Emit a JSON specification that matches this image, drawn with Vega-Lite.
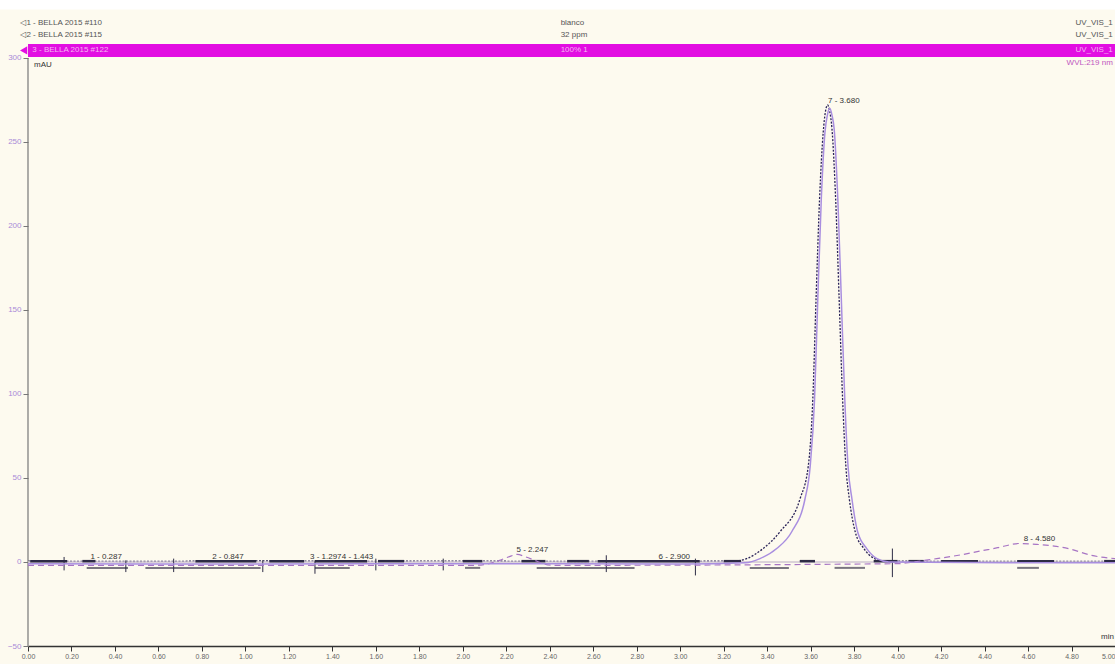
{
  "$schema": "https://vega.github.io/schema/vega-lite/v6.json",
  "width": 1087,
  "height": 646,
  "autosize": {"type": "none"},
  "padding": {"left": 28, "top": 0, "right": 0, "bottom": 18},
  "background": "#fdfaef",
  "config": {
    "view": {"stroke": null},
    "text": {"font": "Liberation Sans", "fontSize": 8},
    "axis": {"labelFont": "Liberation Sans", "titleFontSize": 0, "titleOpacity": 0}
  },
  "datasets": {
    "one": [{}],
    "dark": [
      {"t": 0, "v": 0.5}, {"t": 0.5, "v": 0.3}, {"t": 1.0, "v": 0.6}, {"t": 1.5, "v": 0.4}, {"t": 2.0, "v": 0.5},
      {"t": 2.5, "v": 0.3}, {"t": 3.0, "v": 0.4}, {"t": 3.25, "v": 0.5}, {"t": 3.306, "v": 2}, {"t": 3.381, "v": 8},
      {"t": 3.459, "v": 18}, {"t": 3.551, "v": 37.5}, {"t": 3.589, "v": 57}, {"t": 3.61, "v": 97},
      {"t": 3.625, "v": 157}, {"t": 3.641, "v": 216}, {"t": 3.658, "v": 256}, {"t": 3.668, "v": 268}, {"t": 3.678, "v": 272},
      {"t": 3.688, "v": 268}, {"t": 3.698, "v": 258}, {"t": 3.715, "v": 216}, {"t": 3.731, "v": 157}, {"t": 3.747, "v": 97},
      {"t": 3.762, "v": 57}, {"t": 3.778, "v": 37.5}, {"t": 3.805, "v": 18}, {"t": 3.845, "v": 8}, {"t": 3.895, "v": 2},
      {"t": 3.95, "v": 0.5}, {"t": 4.5, "v": 0.3}, {"t": 5.0, "v": 0.4}
    ],
    "purple": [
      {"t": 0, "v": -1}, {"t": 1.0, "v": -1.2}, {"t": 2.0, "v": -1}, {"t": 3.0, "v": -1.2}, {"t": 3.3, "v": -0.5},
      {"t": 3.367, "v": 2}, {"t": 3.444, "v": 8}, {"t": 3.513, "v": 18}, {"t": 3.574, "v": 37.5}, {"t": 3.598, "v": 57},
      {"t": 3.618, "v": 97}, {"t": 3.633, "v": 157}, {"t": 3.649, "v": 216}, {"t": 3.666, "v": 256}, {"t": 3.677, "v": 266},
      {"t": 3.688, "v": 270}, {"t": 3.698, "v": 266}, {"t": 3.708, "v": 258}, {"t": 3.725, "v": 216}, {"t": 3.741, "v": 157},
      {"t": 3.757, "v": 97}, {"t": 3.772, "v": 57}, {"t": 3.79, "v": 37.5}, {"t": 3.816, "v": 18}, {"t": 3.858, "v": 8},
      {"t": 3.905, "v": 2}, {"t": 3.96, "v": 0}, {"t": 4.5, "v": -0.5}, {"t": 5.0, "v": -0.5}
    ],
    "humps": [
      {"t": 0, "v": -2}, {"t": 2.05, "v": -2}, {"t": 2.12, "v": -1}, {"t": 2.17, "v": 1}, {"t": 2.21, "v": 3},
      {"t": 2.25, "v": 4.5}, {"t": 2.29, "v": 3}, {"t": 2.33, "v": 1}, {"t": 2.37, "v": -1}, {"t": 2.42, "v": -2},
      {"t": 4.0, "v": -1}, {"t": 4.07, "v": 0}, {"t": 4.18, "v": 2}, {"t": 4.28, "v": 4}, {"t": 4.38, "v": 6.5},
      {"t": 4.46, "v": 8.5}, {"t": 4.56, "v": 11}, {"t": 4.64, "v": 10.5}, {"t": 4.72, "v": 9.5}, {"t": 4.8, "v": 7.5},
      {"t": 4.89, "v": 4}, {"t": 5.0, "v": 2}
    ],
    "darkSegs": [
      {"t0": 0.01, "t1": 0.18}, {"t0": 0.25, "t1": 0.31}, {"t0": 0.77, "t1": 1.05}, {"t0": 1.11, "t1": 1.27},
      {"t0": 1.32, "t1": 1.56}, {"t0": 1.61, "t1": 1.73}, {"t0": 2.0, "t1": 2.09}, {"t0": 2.27, "t1": 2.38},
      {"t0": 2.48, "t1": 2.58}, {"t0": 2.62, "t1": 3.09}, {"t0": 3.2, "t1": 3.28}, {"t0": 3.55, "t1": 3.62},
      {"t0": 3.89, "t1": 4.0}, {"t0": 4.05, "t1": 4.12}, {"t0": 4.2, "t1": 4.37}, {"t0": 4.55, "t1": 4.72},
      {"t0": 4.95, "t1": 5.0}
    ],
    "graySegs": [
      {"t0": 0.27, "t1": 0.46}, {"t0": 0.54, "t1": 1.07}, {"t0": 1.32, "t1": 1.48}, {"t0": 2.01, "t1": 2.08},
      {"t0": 2.34, "t1": 2.79}, {"t0": 3.32, "t1": 3.5}, {"t0": 3.71, "t1": 3.85}, {"t0": 4.55, "t1": 4.65}
    ],
    "delims": [
      {"t": 0.166, "lo": -5, "hi": 3}, {"t": 0.45, "lo": -6, "hi": 1}, {"t": 0.67, "lo": -6, "hi": 2},
      {"t": 1.08, "lo": -6, "hi": 1}, {"t": 1.32, "lo": -7, "hi": 1}, {"t": 1.6, "lo": -5, "hi": 2},
      {"t": 1.91, "lo": -5, "hi": 2}, {"t": 2.66, "lo": -6, "hi": 4}, {"t": 3.07, "lo": -8, "hi": 2},
      {"t": 3.976, "lo": -9, "hi": 8}
    ],
    "peaks": [
      {"label": "1 - 0.287", "t": 0.287, "h": 0.5}, {"label": "2 - 0.847", "t": 0.847, "h": 0.5},
      {"label": "3 - 1.297", "t": 1.297, "h": 0.5}, {"label": "4 - 1.443", "t": 1.443, "h": 0.5},
      {"label": "5 - 2.247", "t": 2.247, "h": 5}, {"label": "6 - 2.900", "t": 2.9, "h": 0.5},
      {"label": "7 - 3.680", "t": 3.68, "h": 272}, {"label": "8 - 4.580", "t": 4.58, "h": 11.5}
    ]
  },
  "layer": [
    {
      "data": {"name": "dark"},
      "mark": {"type": "line", "color": "#2a2358", "strokeWidth": 1.3, "strokeDash": [2, 1.5], "interpolate": "monotone"},
      "encoding": {
        "x": {
          "field": "t", "type": "quantitative", "title": null,
          "scale": {"domain": [0, 5], "nice": false, "zero": false},
          "axis": {
            "orient": "bottom", "grid": false, "title": null,
            "values": [0,0.05,0.1,0.15,0.2,0.25,0.3,0.35,0.4,0.45,0.5,0.55,0.6,0.65,0.7,0.75,0.8,0.85,0.9,0.95,1,1.05,1.1,1.15,1.2,1.25,1.3,1.35,1.4,1.45,1.5,1.55,1.6,1.65,1.7,1.75,1.8,1.85,1.9,1.95,2,2.05,2.1,2.15,2.2,2.25,2.3,2.35,2.4,2.45,2.5,2.55,2.6,2.65,2.7,2.75,2.8,2.85,2.9,2.95,3,3.05,3.1,3.15,3.2,3.25,3.3,3.35,3.4,3.45,3.5,3.55,3.6,3.65,3.7,3.75,3.8,3.85,3.9,3.95,4,4.05,4.1,4.15,4.2,4.25,4.3,4.35,4.4,4.45,4.5,4.55,4.6,4.65,4.7,4.75,4.8,4.85,4.9,4.95,5],
            "labelExpr": "abs(datum.value*5 - round(datum.value*5)) < 0.001 ? format(datum.value, '.2f') : ''",
            "tickSize": {"condition": {"test": "abs(datum.value*5 - round(datum.value*5)) < 0.001", "value": 5}, "value": 3},
            "labelAlign": {"condition": {"test": "datum.value > 4.99", "value": "right"}, "value": "center"},
            "tickColor": "#333333", "domainColor": "#333333", "domainWidth": 1.5,
            "labelFontSize": 7, "labelColor": "#666666", "labelPadding": 1,
            "labelFlush": false, "labelOverlap": false
          }
        },
        "y": {
          "field": "v", "type": "quantitative", "title": null,
          "scale": {"domain": [-50, 334.5], "nice": false, "zero": false},
          "axis": {
            "orient": "left", "grid": false, "title": null, "domain": false,
            "values": [-50, 0, 50, 100, 150, 200, 250, 300],
            "tickSize": 5,
            "tickColor": "#777777", "labelColor": "#a98bd8", "labelFontSize": 8, "labelPadding": 2,
            "labelOverlap": false, "labelFlush": false
          }
        }
      }
    },
    {
      "data": {"name": "one"},
      "mark": {"type": "rect", "color": "#ffffff"},
      "encoding": {
        "x": {"datum": -0.13, "type": "quantitative"}, "x2": {"datum": 5},
        "y": {"datum": 328.9, "type": "quantitative"}, "y2": {"datum": 334.5}
      }
    },
    {
      "data": {"name": "one"},
      "mark": {"type": "rect", "color": "#e20ee2"},
      "encoding": {
        "x": {"datum": 0, "type": "quantitative"}, "x2": {"datum": 5},
        "y": {"datum": 300.6, "type": "quantitative"}, "y2": {"datum": 308.3}
      }
    },
    {
      "data": {"name": "one"},
      "mark": {"type": "point", "shape": "triangle-left", "filled": true, "color": "#e20ee2", "size": 70, "opacity": 1},
      "encoding": {
        "x": {"datum": -0.02, "type": "quantitative"},
        "y": {"datum": 304.5, "type": "quantitative"}
      }
    },
    {
      "data": {"name": "one"},
      "mark": {"type": "rule", "color": "#777777", "strokeWidth": 1.2},
      "encoding": {
        "x": {"datum": 0, "type": "quantitative"},
        "y": {"datum": -50, "type": "quantitative"}, "y2": {"datum": 300}
      }
    },
    {
      "data": {"name": "one"},
      "mark": {"type": "rule", "color": "#cfc6d2", "strokeWidth": 1.5},
      "encoding": {
        "x": {"datum": 0, "type": "quantitative"}, "x2": {"datum": 5},
        "y": {"datum": 0, "type": "quantitative"}
      }
    },
    {
      "data": {"name": "graySegs"},
      "mark": {"type": "rule", "color": "#7a7580", "strokeWidth": 2},
      "encoding": {
        "x": {"field": "t0", "type": "quantitative"}, "x2": {"field": "t1"},
        "y": {"datum": -3.5, "type": "quantitative"}
      }
    },
    {
      "data": {"name": "darkSegs"},
      "mark": {"type": "rule", "color": "#2d2b45", "strokeWidth": 2.5},
      "encoding": {
        "x": {"field": "t0", "type": "quantitative"}, "x2": {"field": "t1"},
        "y": {"datum": 0.5, "type": "quantitative"}
      }
    },
    {
      "data": {"name": "delims"},
      "mark": {"type": "rule", "color": "#2d2b45", "strokeWidth": 1},
      "encoding": {
        "x": {"field": "t", "type": "quantitative"},
        "y": {"field": "lo", "type": "quantitative"}, "y2": {"field": "hi"}
      }
    },
    {
      "data": {"name": "humps"},
      "mark": {"type": "line", "color": "#a774c4", "strokeWidth": 1.2, "strokeDash": [6, 4], "interpolate": "monotone"},
      "encoding": {
        "x": {"field": "t", "type": "quantitative"},
        "y": {"field": "v", "type": "quantitative"}
      }
    },
    {
      "data": {"name": "purple"},
      "mark": {"type": "line", "color": "#a98ee0", "strokeWidth": 1.5, "interpolate": "monotone"},
      "encoding": {
        "x": {"field": "t", "type": "quantitative"},
        "y": {"field": "v", "type": "quantitative"}
      }
    },
    {
      "data": {"name": "peaks"},
      "mark": {"type": "text", "align": "left", "baseline": "middle", "dy": -4, "color": "#333333", "fontSize": 8},
      "encoding": {
        "x": {"field": "t", "type": "quantitative"},
        "y": {"field": "h", "type": "quantitative"},
        "text": {"field": "label"}
      }
    },
    {
      "data": {"name": "one"},
      "mark": {"type": "text", "align": "left", "baseline": "middle", "color": "#555555", "text": "◁1 - BELLA 2015 #110"},
      "encoding": {"x": {"datum": -0.035, "type": "quantitative"}, "y": {"datum": 321, "type": "quantitative"}}
    },
    {
      "data": {"name": "one"},
      "mark": {"type": "text", "align": "left", "baseline": "middle", "color": "#555555", "text": "◁2 - BELLA 2015 #115"},
      "encoding": {"x": {"datum": -0.035, "type": "quantitative"}, "y": {"datum": 313.7, "type": "quantitative"}}
    },
    {
      "data": {"name": "one"},
      "mark": {"type": "text", "align": "left", "baseline": "middle", "color": "#f6b4f2", "text": "3 - BELLA 2015 #122"},
      "encoding": {"x": {"datum": 0.02, "type": "quantitative"}, "y": {"datum": 304.5, "type": "quantitative"}}
    },
    {
      "data": {"name": "one"},
      "mark": {"type": "text", "align": "left", "baseline": "middle", "color": "#555555", "text": "blanco"},
      "encoding": {"x": {"datum": 2.45, "type": "quantitative"}, "y": {"datum": 321, "type": "quantitative"}}
    },
    {
      "data": {"name": "one"},
      "mark": {"type": "text", "align": "left", "baseline": "middle", "color": "#555555", "text": "32 ppm"},
      "encoding": {"x": {"datum": 2.45, "type": "quantitative"}, "y": {"datum": 313.7, "type": "quantitative"}}
    },
    {
      "data": {"name": "one"},
      "mark": {"type": "text", "align": "left", "baseline": "middle", "color": "#f6b4f2", "text": "100% 1"},
      "encoding": {"x": {"datum": 2.45, "type": "quantitative"}, "y": {"datum": 304.5, "type": "quantitative"}}
    },
    {
      "data": {"name": "one"},
      "mark": {"type": "text", "align": "right", "baseline": "middle", "color": "#555555", "text": "UV_VIS_1"},
      "encoding": {"x": {"datum": 4.99, "type": "quantitative"}, "y": {"datum": 321, "type": "quantitative"}}
    },
    {
      "data": {"name": "one"},
      "mark": {"type": "text", "align": "right", "baseline": "middle", "color": "#555555", "text": "UV_VIS_1"},
      "encoding": {"x": {"datum": 4.99, "type": "quantitative"}, "y": {"datum": 313.7, "type": "quantitative"}}
    },
    {
      "data": {"name": "one"},
      "mark": {"type": "text", "align": "right", "baseline": "middle", "color": "#f6b4f2", "text": "UV_VIS_1"},
      "encoding": {"x": {"datum": 4.99, "type": "quantitative"}, "y": {"datum": 304.5, "type": "quantitative"}}
    },
    {
      "data": {"name": "one"},
      "mark": {"type": "text", "align": "right", "baseline": "middle", "color": "#c055c0", "text": "WVL:219 nm"},
      "encoding": {"x": {"datum": 4.99, "type": "quantitative"}, "y": {"datum": 297, "type": "quantitative"}}
    },
    {
      "data": {"name": "one"},
      "mark": {"type": "text", "align": "left", "baseline": "middle", "color": "#333333", "text": "mAU"},
      "encoding": {"x": {"datum": 0.028, "type": "quantitative"}, "y": {"datum": 296, "type": "quantitative"}}
    },
    {
      "data": {"name": "one"},
      "mark": {"type": "text", "align": "right", "baseline": "middle", "color": "#333333", "text": "min"},
      "encoding": {"x": {"datum": 4.995, "type": "quantitative"}, "y": {"datum": -44.6, "type": "quantitative"}}
    }
  ]
}
